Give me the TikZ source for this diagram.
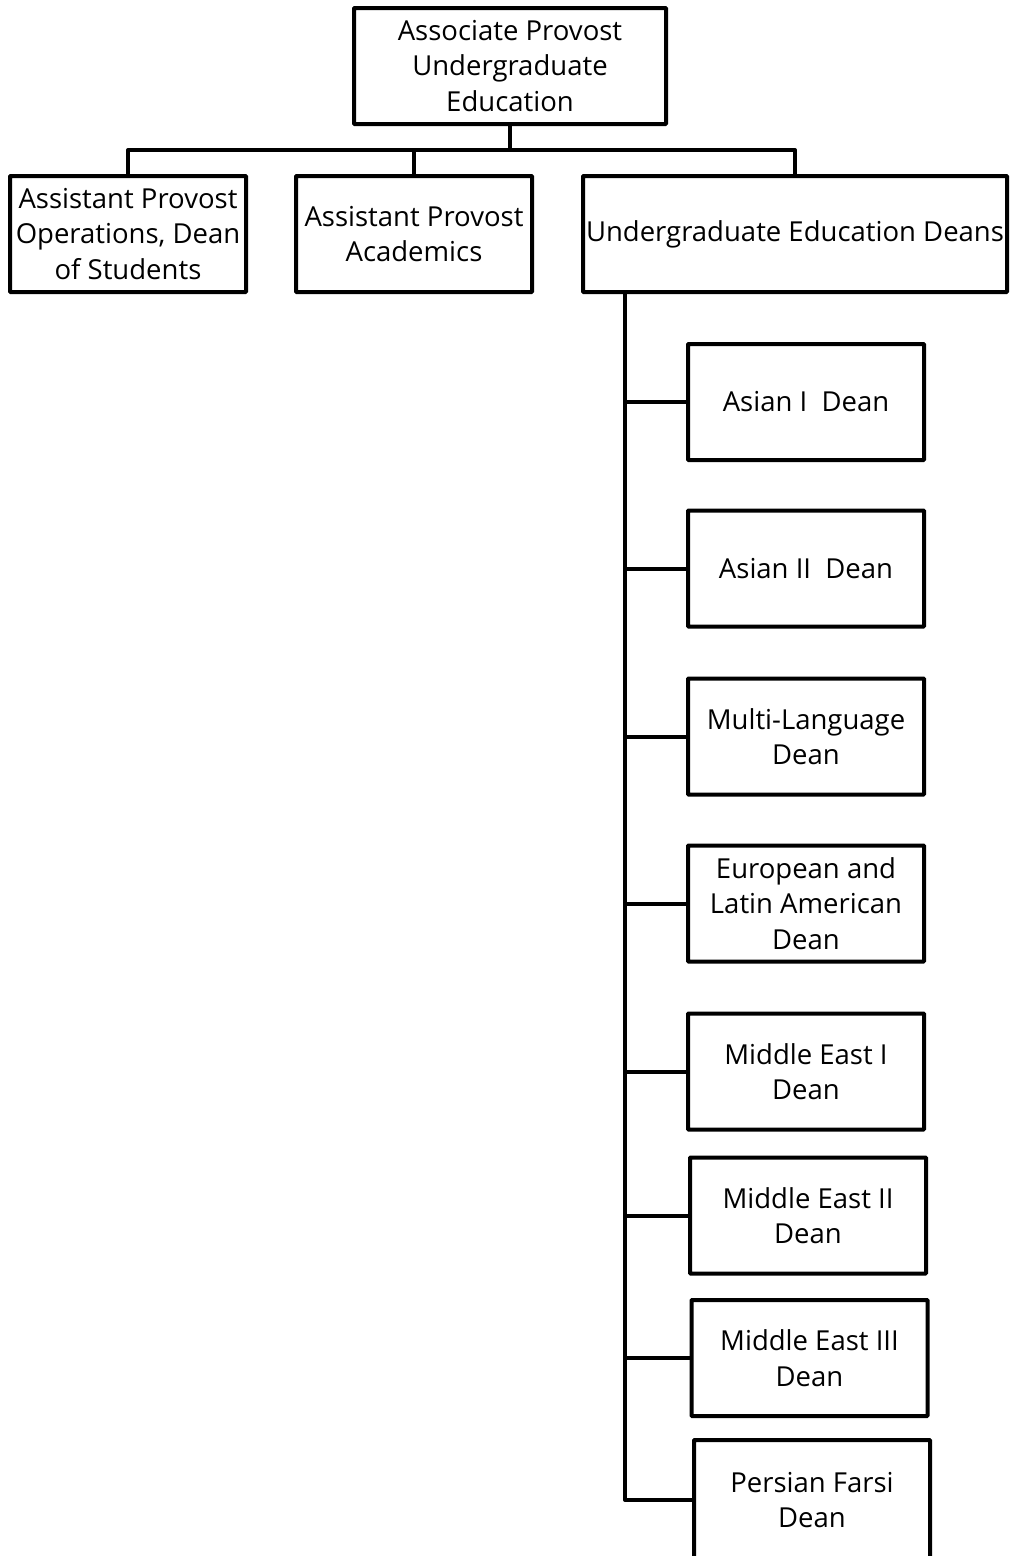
\documentclass[tikz,border=0pt]{standalone}
\usepackage{fontspec}
\setmainfont{Open Sans}
\begin{document}
\begin{tikzpicture}[x=1pt,y=-1pt,
  box/.style={draw, line width=4pt, rounded corners=0.8pt, align=center, inner sep=0pt,
    minimum width=236pt, minimum height=116pt, font=\fontsize{27.5}{35.5}\selectfont},
  link/.style={draw, line width=4pt, line join=round}]
\useasboundingbox (0,0) rectangle (1012,1556);
\clip (0,0) rectangle (1012,1556);
\node[box, minimum width=312pt] (top) at (510,66) {Associate Provost\\Undergraduate\\Education};
\node[box] (b1) at (128,234) {Assistant Provost\\Operations, Dean\\of Students};
\node[box] (b2) at (414,234) {Assistant Provost\\Academics};
\node[box, minimum width=424pt] (b3) at (795,234) {Undergraduate Education Deans};
\coordinate (bus) at (510,150);
\draw[link] (top.south) -- (bus);
\draw[link] (b1.north) |- (bus);
\draw[link] (b2.north) |- (bus);
\draw[link] (b3.north) |- (bus);
\node[box] (d1) at (806,402) {Asian I\ \ Dean};
\node[box] (d2) at (806,568.5) {Asian II\ \ Dean};
\node[box] (d3) at (806,736.5) {Multi-Language\\Dean};
\node[box] (d4) at (806,903.5) {European and\\Latin American\\Dean};
\node[box] (d5) at (806,1071.5) {Middle East I\\Dean};
\node[box] (d6) at (808,1215.5) {Middle East II\\Dean};
\node[box] (d7) at (809.5,1358) {Middle East III\\Dean};
\node[box, minimum height=120pt] (d8) at (812,1500) {Persian Farsi\\Dean};
\coordinate (spine) at (625,293);
\draw[link] (spine) |- (d8.west);
\foreach \d in {d1,d2,d3,d4,d5,d6,d7}{
  \draw[link] (\d.west) -- (\d.west -| spine);
}
\end{tikzpicture}
\end{document}
